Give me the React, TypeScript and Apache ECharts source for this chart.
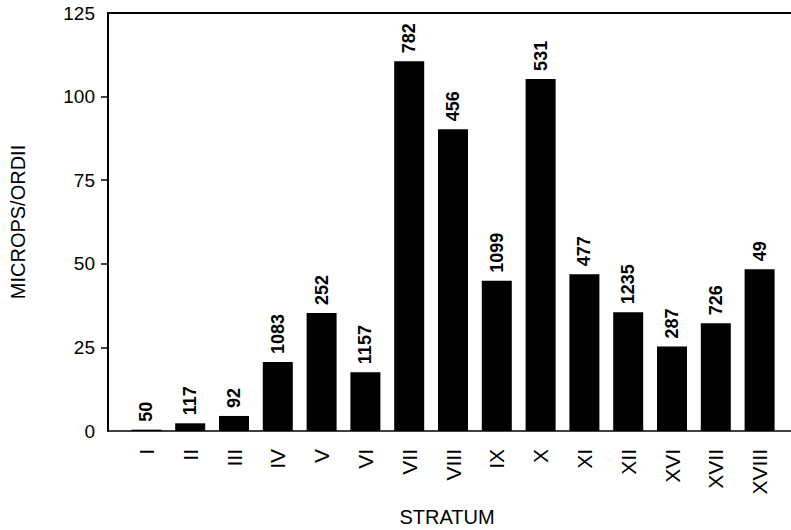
import React, { useEffect, useRef } from "react";
import * as echarts from "echarts";

const categories = ["I", "II", "III", "IV", "V", "VI", "VII", "VIII", "IX", "X", "XI", "XII", "XVI", "XVII", "XVIII"];
const values = [0.4, 2.3, 4.5, 20.6, 35.3, 17.6, 110.6, 90.2, 44.9, 105.3, 46.9, 35.5, 25.3, 32.2, 48.4];
const counts = ["50", "117", "92", "1083", "252", "1157", "782", "456", "1099", "531", "477", "1235", "287", "726", "49"];
const yTicks = [25, 50, 75, 100];

const FONT = "'Liberation Sans', Arial, sans-serif";

export default function App() {
  const ref = useRef<HTMLDivElement>(null);
  useEffect(() => {
    if (!ref.current) return;
    const chart = echarts.init(ref.current, null, { renderer: "svg" });
    chart.setOption({
      animation: false,
      backgroundColor: "#ffffff",
      grid: [
        { left: 107, top: 13, right: 0, bottom: 99 },
        { left: 124.5, top: 13, width: 657, bottom: 99 },
      ],
      xAxis: [
        {
          gridIndex: 0, type: "value", min: 0, max: 1, position: "bottom",
          axisLine: { show: true, onZero: false, lineStyle: { color: "#000", width: 1.5 } },
          axisTick: { show: false }, axisLabel: { show: false }, splitLine: { show: false },
        },
        {
          gridIndex: 0, type: "value", min: 0, max: 1, position: "top",
          axisLine: { show: true, onZero: false, lineStyle: { color: "#000", width: 2 } },
          axisTick: { show: false }, axisLabel: { show: false }, splitLine: { show: false },
        },
        {
          gridIndex: 1, type: "category", data: categories, position: "bottom",
          axisLine: { show: false }, axisTick: { show: false }, splitLine: { show: false },
          axisLabel: { rotate: 90, margin: 18, color: "#000", fontSize: 21, fontFamily: FONT, interval: 0 },
        },
      ],
      yAxis: [
        {
          gridIndex: 0, type: "value", min: 0, max: 125, interval: 25,
          name: "MICROPS/ORDII", nameLocation: "middle", nameGap: 80,
          nameTextStyle: { color: "#000", fontSize: 20, fontFamily: FONT },
          axisLine: { show: true, lineStyle: { color: "#000", width: 2 } },
          axisTick: { show: true, length: 7, customValues: yTicks, lineStyle: { color: "#000", width: 1.5 } },
          axisLabel: { color: "#000", fontSize: 19, fontFamily: FONT, margin: 13 },
          splitLine: { show: false },
        },
        {
          gridIndex: 1, type: "value", min: 0, max: 125, show: false, splitLine: { show: false },
        },
      ],
      graphic: [
        {
          type: "text", x: 447, y: 517,
          style: { text: "STRATUM", align: "center", verticalAlign: "middle", fill: "#000", fontSize: 20, fontFamily: FONT },
        },
      ],
      series: [
        {
          type: "bar", xAxisIndex: 2, yAxisIndex: 1, barWidth: 30,
          data: values,
          itemStyle: { color: "#000" },
          label: {
            show: true, position: "top", rotate: 90, align: "left", verticalAlign: "middle", distance: 8,
            color: "#000", fontSize: 18, fontWeight: "bold", fontFamily: FONT,
            formatter: (p: any) => counts[p.dataIndex],
          },
        },
      ],
    });
    return () => chart.dispose();
  }, []);
  return <div ref={ref} style={{ position: "fixed", left: 0, top: 0, width: 791, height: 530 }} />;
}
